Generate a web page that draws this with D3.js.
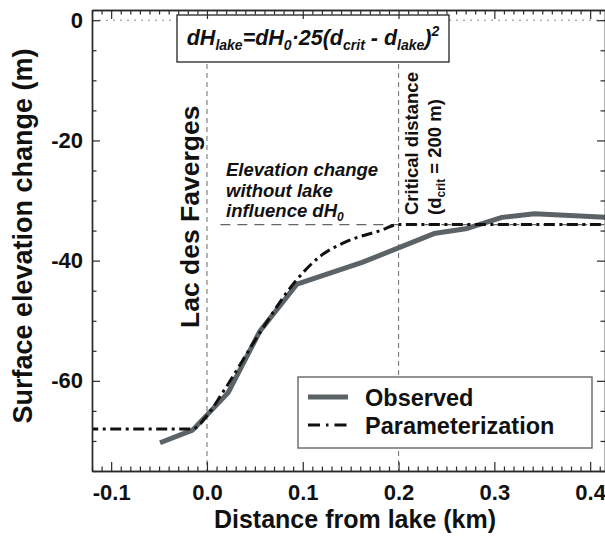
<!DOCTYPE html>
<html>
<head>
<meta charset="utf-8">
<script src="https://cdn.jsdelivr.net/npm/d3@7"></script>
<style>
  html, body { margin: 0; padding: 0; background: #fff; }
  svg { display: block; font-family: "Liberation Sans", Arial, Helvetica, sans-serif; }
</style>
</head>
<body>
<svg id="chart" width="605" height="538"></svg>
<script>
// ---- data ----
const observedX = [-0.049, -0.015, 0.022, 0.055, 0.094, 0.162, 0.237, 0.270, 0.308, 0.342, 0.420];
const observedY = [-70.3, -68.2, -62.0, -51.8, -43.9, -40.3, -35.5, -34.7, -32.8, -32.2, -32.8];

const paramX = [-0.125, -0.015, 0.000, 0.017, 0.056, 0.092, 0.118, 0.146, 0.181, 0.200, 0.420];
const paramY = [-68.0, -68.0, -65.8, -61.8, -51.8, -43.5, -39.3, -36.8, -35.0, -34.0, -34.0];

const dH0 = -34;          // elevation change without lake influence
const lakeEdge = 0.0;     // Lac des Faverges
const dCrit = 0.2;        // critical distance (km)

const xMajorTicks = [-0.1, 0.0, 0.1, 0.2, 0.3, 0.4];
const xTickLabels = ["-0.1", "0.0", "0.1", "0.2", "0.3", "0.4"];
const yMajorTicks = [0, -20, -40, -60];
const yTickLabels = ["0", "-20", "-40", "-60"];

const seriesNames = ["Observed", "Parameterization"];

// ---- layout ----
const svg = d3.select("#chart");
const L = 92, R = 605, T = 10, B = 471;
const x = d3.scaleLinear().domain([-0.12, 0.4155]).range([L, R]);
const y = d3.scaleLinear().domain([-75, 1.7]).range([B, T]);

const obsColor = "#5b6367";
const axisColor = "#2a2a2a";

svg.append("defs").append("clipPath").attr("id", "plotclip")
  .append("rect").attr("x", L).attr("y", T).attr("width", R - L).attr("height", B - T);

const plot = svg.append("g").attr("clip-path", "url(#plotclip)");

// zero dotted line
plot.append("line")
  .attr("x1", L).attr("x2", R).attr("y1", y(0)).attr("y2", y(0))
  .attr("stroke", "#8a8a8a").attr("stroke-width", 1).attr("stroke-dasharray", "2,5");

// vertical dashed lines
[lakeEdge, dCrit].forEach(v => {
  plot.append("line")
    .attr("x1", x(v)).attr("x2", x(v)).attr("y1", 64).attr("y2", B)
    .attr("stroke", "#777").attr("stroke-width", 1.1).attr("stroke-dasharray", "5,4");
});

// dH0 dashed line
plot.append("line")
  .attr("x1", x(0.014)).attr("x2", R).attr("y1", y(dH0)).attr("y2", y(dH0))
  .attr("stroke", "#666").attr("stroke-width", 1.3).attr("stroke-dasharray", "10,7");

const obsData = observedX.map((d, i) => [d, observedY[i]]);
const parData = paramX.map((d, i) => [d, paramY[i]]);

const lineLin = d3.line().x(d => x(d[0])).y(d => y(d[1]));
const lineSmooth = d3.line().x(d => x(d[0])).y(d => y(d[1])).curve(d3.curveMonotoneX);

plot.append("path").datum(obsData)
  .attr("d", lineLin).attr("fill", "none")
  .attr("stroke", obsColor).attr("stroke-width", 5).attr("stroke-linejoin", "round");

plot.append("path").datum(parData)
  .attr("d", lineSmooth).attr("fill", "none")
  .attr("stroke", "#111").attr("stroke-width", 3).attr("stroke-dasharray", "11,4.5,3,4.5");

// ---- formula box ----
svg.append("rect")
  .attr("x", 177).attr("y", 15).attr("width", 272).attr("height", 47)
  .attr("fill", "#fff").attr("stroke", "#222").attr("stroke-width", 1.3);

const f = svg.append("text")
  .attr("x", 313).attr("y", 45).attr("text-anchor", "middle")
  .attr("font-weight", "bold").attr("font-style", "italic")
  .attr("font-size", 21.5).attr("fill", "#111");
const parts = [
  ["dH", 0, 21.5], ["lake", 5, 14], ["=dH", -5, 21.5], ["0", 5, 14], ["·25(d", -5, 21.5],
  ["crit", 5, 14], [" - d", -5, 21.5], ["lake", 5, 14], [")", -5, 21.5], ["2", -9, 14], ["", 9, 21.5]
];
parts.forEach(p => {
  f.append("tspan").attr("dy", p[1]).attr("font-size", p[2]).text(p[0]);
});

// ---- annotations ----
svg.append("text")
  .attr("transform", "translate(199,328) rotate(-90)")
  .attr("font-weight", "bold").attr("font-size", 26.5).attr("fill", "#111")
  .text("Lac des Faverges");

svg.append("text")
  .attr("transform", "translate(418,215) rotate(-90)")
  .attr("font-weight", "bold").attr("font-size", 18.5).attr("fill", "#111")
  .text("Critical distance");
const c2 = svg.append("text")
  .attr("transform", "translate(441,215) rotate(-90)")
  .attr("font-weight", "bold").attr("font-size", 18.5).attr("fill", "#111");
c2.append("tspan").text("(d");
c2.append("tspan").attr("dy", 4).attr("font-size", 12).text("crit");
c2.append("tspan").attr("dy", -4).text(" = 200 m)");

const e = svg.append("g").attr("font-weight", "bold").attr("font-style", "italic")
  .attr("font-size", 18.5).attr("fill", "#111");
e.append("text").attr("x", 226).attr("y", 176).text("Elevation change");
e.append("text").attr("x", 226).attr("y", 196.5).text("without lake");
const e3 = e.append("text").attr("x", 226).attr("y", 217);
e3.append("tspan").text("influence dH");
e3.append("tspan").attr("dy", 4).attr("font-size", 12).text("0");

// ---- legend ----
const lg = svg.append("g");
lg.append("rect").attr("x", 298).attr("y", 377).attr("width", 294).attr("height", 71)
  .attr("fill", "#fff").attr("stroke", "#666").attr("stroke-width", 1.4);
lg.append("line").attr("x1", 308).attr("x2", 348).attr("y1", 397).attr("y2", 397)
  .attr("stroke", obsColor).attr("stroke-width", 5);
lg.append("line").attr("x1", 308).attr("x2", 348).attr("y1", 425).attr("y2", 425)
  .attr("stroke", "#111").attr("stroke-width", 3).attr("stroke-dasharray", "12,6,2.5,6");
lg.append("text").attr("x", 365).attr("y", 406).attr("font-weight", "bold")
  .attr("font-size", 23.5).attr("fill", "#111").text(seriesNames[0]);
lg.append("text").attr("x", 365).attr("y", 434).attr("font-weight", "bold")
  .attr("font-size", 23.5).attr("fill", "#111").text(seriesNames[1]);

// ---- axes ----
const xMinor = d3.range(-12, 42).map(i => i / 100)
  .filter(v => !xMajorTicks.some(m => Math.abs(m - v) < 1e-9));
const yMinor = d3.range(-75, 1, 5).filter(v => !yMajorTicks.includes(v));

function styleAxis(g) {
  g.select(".domain").attr("stroke", axisColor).attr("stroke-width", 1.4);
  g.selectAll(".tick line").attr("stroke", axisColor).attr("stroke-width", 1.2);
}

// bottom
svg.append("g").attr("transform", `translate(0,${B})`)
  .call(d3.axisBottom(x).tickValues(xMinor).tickSize(-4.5).tickSizeOuter(0).tickFormat(""))
  .call(styleAxis);
const bx = svg.append("g").attr("transform", `translate(0,${B})`)
  .call(d3.axisBottom(x).tickValues(xMajorTicks).tickSize(-9).tickSizeOuter(0)
    .tickFormat((d, i) => xTickLabels[i]))
  .call(styleAxis);
bx.selectAll(".tick text").attr("y", 29).attr("dy", 0)
  .attr("font-size", 22).attr("font-weight", "bold").attr("fill", "#111")
  .attr("font-family", "Liberation Sans, Arial, sans-serif");

// top
svg.append("g").attr("transform", `translate(0,${T})`)
  .call(d3.axisTop(x).tickValues(xMinor).tickSize(-4.5).tickSizeOuter(0).tickFormat(""))
  .call(styleAxis);
svg.append("g").attr("transform", `translate(0,${T})`)
  .call(d3.axisTop(x).tickValues(xMajorTicks).tickSize(-9).tickSizeOuter(0).tickFormat(""))
  .call(styleAxis);

// left
svg.append("g").attr("transform", `translate(${L},0)`)
  .call(d3.axisLeft(y).tickValues(yMinor).tickSize(-4.5).tickSizeOuter(0).tickFormat(""))
  .call(styleAxis);
const ly = svg.append("g").attr("transform", `translate(${L},0)`)
  .call(d3.axisLeft(y).tickValues(yMajorTicks).tickSize(-8).tickSizeOuter(0)
    .tickPadding(9).tickFormat((d, i) => yTickLabels[i]))
  .call(styleAxis);
ly.selectAll(".tick text").attr("font-size", 22).attr("font-weight", "bold").attr("fill", "#111")
  .attr("font-family", "Liberation Sans, Arial, sans-serif");

// right
svg.append("g").attr("transform", `translate(${R},0)`)
  .call(d3.axisRight(y).tickValues(yMinor).tickSize(-4.5).tickSizeOuter(0).tickFormat(""))
  .call(styleAxis);
svg.append("g").attr("transform", `translate(${R},0)`)
  .call(d3.axisRight(y).tickValues(yMajorTicks).tickSize(-8).tickSizeOuter(0).tickFormat(""))
  .call(styleAxis);

// axis titles
svg.append("text").attr("x", 355).attr("y", 528).attr("text-anchor", "middle")
  .attr("font-weight", "bold").attr("font-size", 25).attr("fill", "#111")
  .text("Distance from lake (km)");
svg.append("text").attr("transform", "translate(32,236) rotate(-90)").attr("text-anchor", "middle")
  .attr("font-weight", "bold").attr("font-size", 27).attr("fill", "#111")
  .text("Surface elevation change (m)");
</script>
</body>
</html>
